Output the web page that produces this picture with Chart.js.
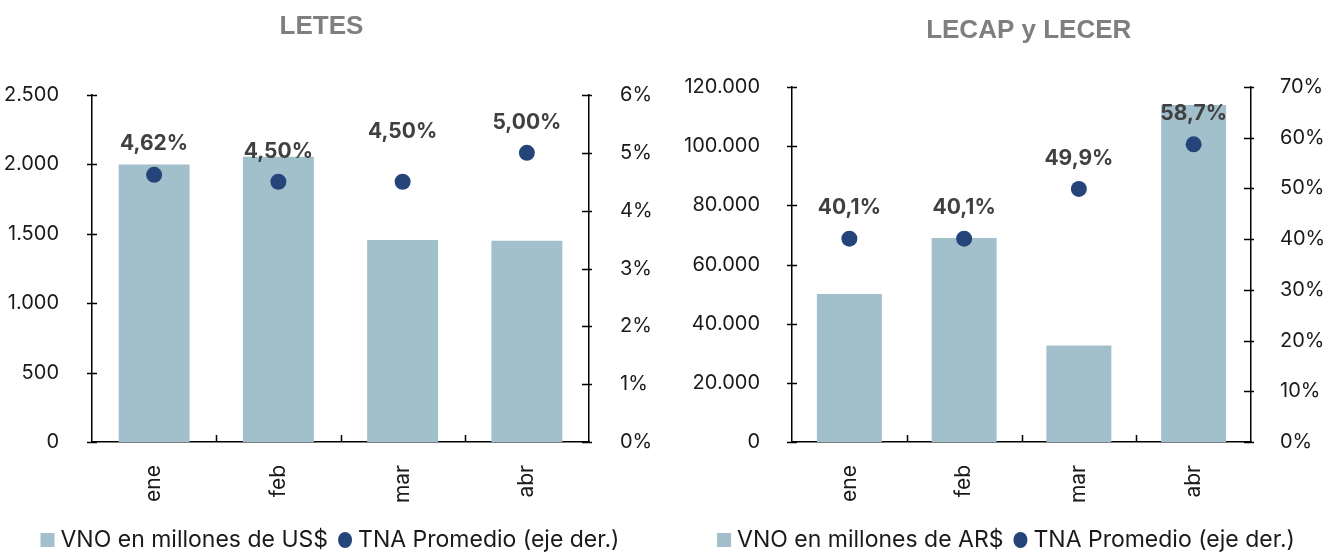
<!DOCTYPE html>
<html>
<head>
<meta charset="utf-8">
<script src="https://cdn.jsdelivr.net/npm/chart.js@4"></script>
<style>
  html, body { margin:0; padding:0; background:#fff; }
  #w1 { position:absolute; left:0; top:0; width:660px; height:552px; }
  #w2 { position:absolute; left:660px; top:0; width:671px; height:552px; }
</style>
</head>
<body>
<div id="w1"><canvas id="c1" width="660" height="552"></canvas></div>
<div id="w2"><canvas id="c2" width="671" height="552"></canvas></div>
<script>
// ---- data ----
const months = ['ene', 'feb', 'mar', 'abr'];
const letesVNO = [2000, 2055, 1455, 1450];
const letesTNA = [4.62, 4.50, 4.50, 5.00];
const letesTNALabels = ['4,62%', '4,50%', '4,50%', '5,00%'];
const lecapVNO = [50000, 69000, 32600, 113900];
const lecapTNA = [40.1, 40.1, 49.9, 58.7];
const lecapTNALabels = ['40,1%', '40,1%', '49,9%', '58,7%'];
const letesLeftTicks = [0, 500, 1000, 1500, 2000, 2500];
const letesRightTicks = [0, 1, 2, 3, 4, 5, 6];
const lecapLeftTicks = [0, 20000, 40000, 60000, 80000, 100000, 120000];
const lecapRightTicks = [0, 10, 20, 30, 40, 50, 60, 70];

// ---- styles ----
const BAR = '#a2bfcc';
const DOT = '#25457a';
const TXT = '#1a1a1a';
const FAM = 'Inter';
const TICKFONT = { family: FAM, size: 20 };

function fmt(v) { return String(v).replace(/\B(?=(\d{3})+(?!\d))/g, '.'); }

const decor = {
  id: 'decor',
  afterDatasetsDraw(chart, args, o) {
    const ctx = chart.ctx;
    const ca = chart.chartArea;
    const x = chart.scales.x, y = chart.scales.y, y1 = chart.scales.y1;
    ctx.save();
    ctx.strokeStyle = '#000';
    ctx.lineWidth = 1.5;
    ctx.beginPath();
    y.ticks.forEach(t => { const py = Math.round(y.getPixelForValue(t.value)) + 0.5; ctx.moveTo(ca.left - 5, py); ctx.lineTo(ca.left + 5, py); });
    y1.ticks.forEach(t => { const py = Math.round(y1.getPixelForValue(t.value)) + 0.5; ctx.moveTo(ca.right - 7, py); ctx.lineTo(ca.right + 3, py); });
    for (let i = 0; i < months.length - 1; i++) {
      const px = Math.round((x.getPixelForValue(i) + x.getPixelForValue(i + 1)) / 2) + 0.5;
      ctx.moveTo(px, ca.bottom); ctx.lineTo(px, ca.bottom - 7);
    }
    ctx.stroke();

    // data labels
    const meta = chart.getDatasetMeta(0);
    ctx.font = 'bold 21px ' + FAM;
    ctx.fillStyle = '#404040';
    ctx.textAlign = 'center';
    ctx.textBaseline = 'middle';
    meta.data.forEach((pt, i) => {
      ctx.fillText(o.labels[i], pt.x, pt.y - o.offsets[i]);
    });

    // title
    ctx.font = 'bold 26px "Liberation Sans", Arial, sans-serif';
    ctx.fillStyle = '#7f7f7f';
    ctx.fillText(o.title, o.titleX, o.titleY);

    // legend
    ctx.font = '23px ' + FAM;
    ctx.textBaseline = 'middle';
    ctx.textAlign = 'left';
    const w1 = ctx.measureText(o.leg1).width, w2 = ctx.measureText(o.leg2).width;
    const total = 14 + 6 + w1 + 10 + 15 + 5 + w2;
    let lx = o.legX - total / 2;
    const ly = o.legY;
    ctx.fillStyle = BAR;
    ctx.fillRect(lx, ly - 7, 14, 14);
    lx += 20;
    ctx.fillStyle = TXT;
    ctx.fillText(o.leg1, lx, ly);
    lx += w1 + 10;
    ctx.fillStyle = DOT;
    ctx.beginPath(); ctx.ellipse(lx + 7, ly, 7, 8, 0, 0, Math.PI * 2); ctx.fill();
    lx += 20;
    ctx.fillStyle = TXT;
    ctx.fillText(o.leg2, lx, ly);
    ctx.restore();
  }
};

function build(id, cfg) {
  return new Chart(document.getElementById(id), {
    data: {
      labels: months,
      datasets: [
        { type: 'line', data: cfg.tna, yAxisID: 'y1', showLine: false, pointRadius: 8, pointHoverRadius: 8,
          pointBackgroundColor: DOT, pointBorderWidth: 0, order: 0 },
        { type: 'bar', data: cfg.vno, yAxisID: 'y', backgroundColor: BAR, barPercentage: cfg.barPct,
          categoryPercentage: 1, order: 1 }
      ]
    },
    options: {
      responsive: false,
      animation: false,
      events: [],
      layout: { padding: { top: cfg.top, left: 0, right: 0, bottom: 0 } },
      plugins: {
        legend: { display: false },
        title: { display: false },
        tooltip: { enabled: false },
        decor: cfg.decor
      },
      scales: {
        x: {
          grid: { display: false },
          border: { display: true, color: '#000', width: 1.5 },
          ticks: { maxRotation: 90, minRotation: 90, padding: 15, font: { family: FAM, size: 21 }, color: TXT },
          afterFit: s => { s.height = 110; }
        },
        y: {
          position: 'left', min: 0, max: cfg.leftTicks[cfg.leftTicks.length - 1],
          afterBuildTicks: s => { s.ticks = cfg.leftTicks.map(v => ({ value: v })); },
          ticks: { padding: cfg.lpad, font: TICKFONT, color: TXT, callback: v => fmt(v) },
          grid: { display: false },
          border: { display: true, color: '#000', width: 1.5 },
          afterFit: s => { s.width = cfg.lw; }
        },
        y1: {
          position: 'right', min: 0, max: cfg.rightTicks[cfg.rightTicks.length - 1],
          afterBuildTicks: s => { s.ticks = cfg.rightTicks.map(v => ({ value: v })); },
          ticks: { padding: cfg.rpad, font: TICKFONT, color: TXT, callback: v => v + '%' },
          grid: { display: false },
          border: { display: true, color: '#000', width: 1.5 },
          afterFit: s => { s.width = cfg.rw; }
        }
      }
    },
    plugins: [decor]
  });
}

build('c1', {
  vno: letesVNO, tna: letesTNA, leftTicks: letesLeftTicks, rightTicks: letesRightTicks,
  top: 95, lw: 92, rw: 71, lpad: 25, rpad: 23, barPct: 0.571,
  decor: { labels: letesTNALabels, offsets: [31, 30, 50, 30], title: 'LETES', titleX: 321.5, titleY: 27,
           leg1: 'VNO en millones de US$', leg2: 'TNA Promedio (eje der.)', legX: 330, legY: 540 }
});

build('c2', {
  vno: lecapVNO, tna: lecapTNA, leftTicks: lecapLeftTicks, rightTicks: lecapRightTicks,
  top: 87, lw: 132, rw: 80, lpad: 24, rpad: 21, barPct: 0.566,
  decor: { labels: lecapTNALabels, offsets: [31, 31, 30, 31], title: 'LECAP y LECER', titleX: 368.7, titleY: 31,
           leg1: 'VNO en millones de AR$', leg2: 'TNA Promedio (eje der.)', legX: 346, legY: 540 }
});
</script>
</body>
</html>
